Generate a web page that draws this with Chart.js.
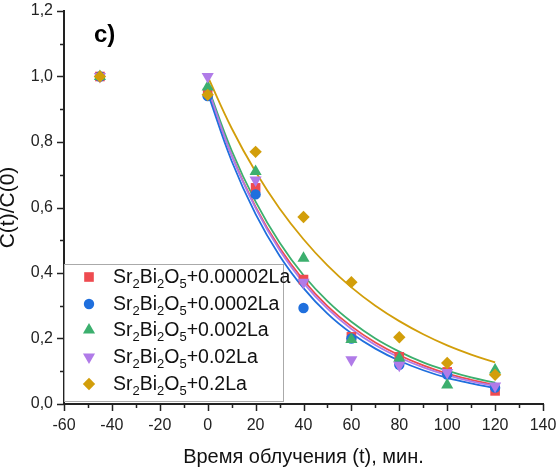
<!DOCTYPE html>
<html>
<head>
<meta charset="utf-8">
<script src="https://cdn.jsdelivr.net/npm/chart.js@4/dist/chart.umd.min.js"></script>
<style>
  html, body { margin: 0; padding: 0; background: #fff; }
  #wrap { width: 558px; height: 468px; }
</style>
</head>
<body>
<div id="wrap"><canvas id="chart" width="558" height="468"></canvas></div>
<script>
/* ── Data ───────────────────────────────────────── */
const seriesNames = ['+0.00002La', '+0.0002La', '+0.002La', '+0.02La', '+0.2La'];
const xTicks = [-60, -40, -20, 0, 20, 40, 60, 80, 100, 120, 140];
const yTicks = [0, 0.2, 0.4, 0.6, 0.8, 1.0, 1.2];

// measured points (t, min)
const pointT = [-45, 0, 20, 40, 60, 80, 100, 120];
const red    = [1.0, 0.95, 0.66, 0.38, 0.205, 0.144, 0.098, 0.040];
const blue   = [1.0, 0.94, 0.64, 0.293, 0.20, 0.12, 0.090, 0.050];
const green  = [1.0, 0.968, 0.71, 0.445, 0.197, 0.14, 0.058, 0.104];
const purple = [1.0, 1.0, 0.684, 0.372, 0.135, 0.118, 0.096, 0.055];
const gold   = [1.0, 0.944, 0.77, 0.571, 0.372, 0.204, 0.125, 0.089];

// fitted curves, every 10 min
const fitT      = [0, 10, 20, 30, 40, 50, 60, 70, 80, 90, 100, 110, 120];
const fitRed    = [0.96, 0.76, 0.602, 0.477, 0.378, 0.299, 0.237, 0.188, 0.149, 0.118, 0.093, 0.074, 0.058];
const fitBlue   = [0.95, 0.742, 0.58, 0.453, 0.354, 0.276, 0.216, 0.169, 0.132, 0.103, 0.080, 0.063, 0.049];
const fitGreen  = [0.97, 0.774, 0.618, 0.493, 0.393, 0.314, 0.251, 0.200, 0.160, 0.127, 0.102, 0.081, 0.065];
const fitPurple = [0.965, 0.759, 0.598, 0.470, 0.370, 0.291, 0.229, 0.180, 0.142, 0.112, 0.088, 0.069, 0.055];
const fitGold   = [1.0, 0.842, 0.709, 0.597, 0.503, 0.423, 0.356, 0.300, 0.253, 0.213, 0.179, 0.151, 0.127];

/* ── Styles ─────────────────────────────────────── */
const colors = ['#ee4b50', '#1f6fdd', '#3caf6e', '#b07be8', '#d29e0a'];
const styles = [
  { pointStyle: 'rect',     radius: 6.8, rotation: 0 },
  { pointStyle: 'circle',   radius: 5.2, rotation: 0 },
  { pointStyle: 'triangle', radius: 7,   rotation: 0 },
  { pointStyle: 'triangle', radius: 7,   rotation: 180 },
  { pointStyle: 'rectRot',  radius: 6.2, rotation: 0 },
];
const FONT = 'Arial, "Liberation Sans", sans-serif';
const pts = arr => pointT.map((t, i) => ({ x: t, y: arr[i] }));
const fit = arr => fitT.map((t, i) => ({ x: t, y: arr[i] }));

const pointSets = [red, blue, green, purple, gold];
const fitSets = [fitRed, fitBlue, fitGreen, fitPurple, fitGold];

const datasets = [];
fitSets.forEach((arr, i) => datasets.push({
  type: 'line', data: fit(arr), borderColor: colors[i], borderWidth: 1.8,
  pointRadius: 0, fill: false, tension: 0.4, order: 20 - i
}));
pointSets.forEach((arr, i) => datasets.push({
  type: 'scatter', data: pts(arr), backgroundColor: colors[i], borderWidth: 0,
  pointStyle: styles[i].pointStyle, pointRadius: styles[i].radius,
  pointRotation: styles[i].rotation, order: 10 - i
}));

/* ── Plugins: minor ticks, legend, panel label ──── */
const extras = {
  id: 'extras',
  afterDraw(chart) {
    const { ctx, chartArea: a, scales: { x, y } } = chart;
    ctx.save();
    ctx.strokeStyle = '#222';
    ctx.lineWidth = 1.5;
    ctx.beginPath();
    for (let v = -60; v <= 140; v += 10) {
      const px = Math.round(x.getPixelForValue(v)) + 0.5;
      const len = v % 20 === 0 ? 7 : 4;
      ctx.moveTo(px, a.bottom); ctx.lineTo(px, a.bottom + len);
    }
    for (let k = 0; k <= 12; k++) {
      const py = Math.round(y.getPixelForValue(k / 10)) + 0.5;
      const len = k % 2 === 0 ? 7 : 4;
      ctx.moveTo(a.left, py); ctx.lineTo(a.left - len, py);
    }
    ctx.stroke();

    // panel label
    ctx.fillStyle = '#000';
    ctx.font = 'bold 24px ' + FONT;
    ctx.textBaseline = 'alphabetic';
    ctx.fillText('c)', 94, 42);

    // legend box
    const bx = a.left, by = 264, bw = 219, bh = 137;
    ctx.fillStyle = '#fff';
    ctx.fillRect(bx, by, bw, bh);
    ctx.strokeStyle = '#aaa';
    ctx.lineWidth = 1;
    ctx.strokeRect(bx + 0.5, by + 0.5, bw, bh);

    const rowY = [277, 304, 330, 357, 384];
    seriesNames.forEach((name, i) => {
      const cy = rowY[i];
      drawMarker(ctx, i, 89, cy);
      drawFormula(ctx, 113, cy + 6, name);
    });
    ctx.restore();
  }
};

function drawMarker(ctx, i, cx, cy) {
  const s = styles[i];
  const r = s.radius;
  ctx.fillStyle = colors[i];
  ctx.beginPath();
  if (s.pointStyle === 'rect') {
    const h = r * Math.SQRT1_2;
    ctx.rect(cx - h, cy - h, 2 * h, 2 * h);
  } else if (s.pointStyle === 'circle') {
    ctx.arc(cx, cy, r, 0, Math.PI * 2);
  } else if (s.pointStyle === 'triangle') {
    const dir = s.rotation ? -1 : 1;
    ctx.moveTo(cx, cy - dir * r);
    ctx.lineTo(cx + r * Math.sin(Math.PI / 3), cy + dir * r / 2);
    ctx.lineTo(cx - r * Math.sin(Math.PI / 3), cy + dir * r / 2);
  } else {
    ctx.moveTo(cx - r, cy); ctx.lineTo(cx, cy - r);
    ctx.lineTo(cx + r, cy); ctx.lineTo(cx, cy + r);
  }
  ctx.closePath();
  ctx.fill();
}

function drawFormula(ctx, x0, base, tail) {
  const parts = [['Sr', 0], ['2', 1], ['Bi', 0], ['2', 1], ['O', 0], ['5', 1], [tail, 0]];
  let x = x0;
  ctx.fillStyle = '#111';
  ctx.textBaseline = 'alphabetic';
  parts.forEach(([t, sub]) => {
    ctx.font = (sub ? '13px ' : '19.5px ') + FONT;
    ctx.fillText(t, x, sub ? base + 5 : base);
    x += ctx.measureText(t).width;
  });
}

/* ── Chart ──────────────────────────────────────── */
// tick marks are drawn by the plugin; the library's own ticks only give label spacing
const hiddenTicks = len => ({ display: true, drawOnChartArea: false, drawTicks: true,
                              tickLength: len, tickColor: 'rgba(0,0,0,0)' });

new Chart(document.getElementById('chart'), {
  data: { datasets },
  options: {
    responsive: false,
    animation: false,
    devicePixelRatio: 1,
    layout: { padding: { top: 11, right: 15, left: 0, bottom: 0 } },
    plugins: { legend: { display: false }, tooltip: { enabled: false } },
    scales: {
      x: {
        type: 'linear', min: -60, max: 140,
        afterFit: s => { s.height = 64; },
        afterBuildTicks: s => { s.ticks = xTicks.map(v => ({ value: v })); },
        grid: hiddenTicks(12),
        border: { display: true, color: '#222', width: 2 },
        ticks: { color: '#222', font: { family: FONT, size: 16 }, padding: 0, maxRotation: 0 },
        title: { display: true, text: 'Время облучения (t), мин.', color: '#111',
                 font: { family: FONT, size: 20 }, padding: { top: 0, bottom: -1 } }
      },
      y: {
        type: 'linear', min: 0, max: 1.2,
        afterFit: s => { s.width = 64; },
        afterBuildTicks: s => { s.ticks = yTicks.map(v => ({ value: v })); },
        grid: hiddenTicks(11),
        border: { display: true, color: '#222', width: 2 },
        ticks: { color: '#222', font: { family: FONT, size: 16 }, padding: 0,
                 callback: v => v.toFixed(1).replace('.', ',') },
        title: { display: true, text: 'C(t)/C(0)', color: '#111',
                 font: { family: FONT, size: 21, lineHeight: 0.78 }, padding: 0 }
      }
    }
  },
  plugins: [extras]
});
</script>
</body>
</html>
